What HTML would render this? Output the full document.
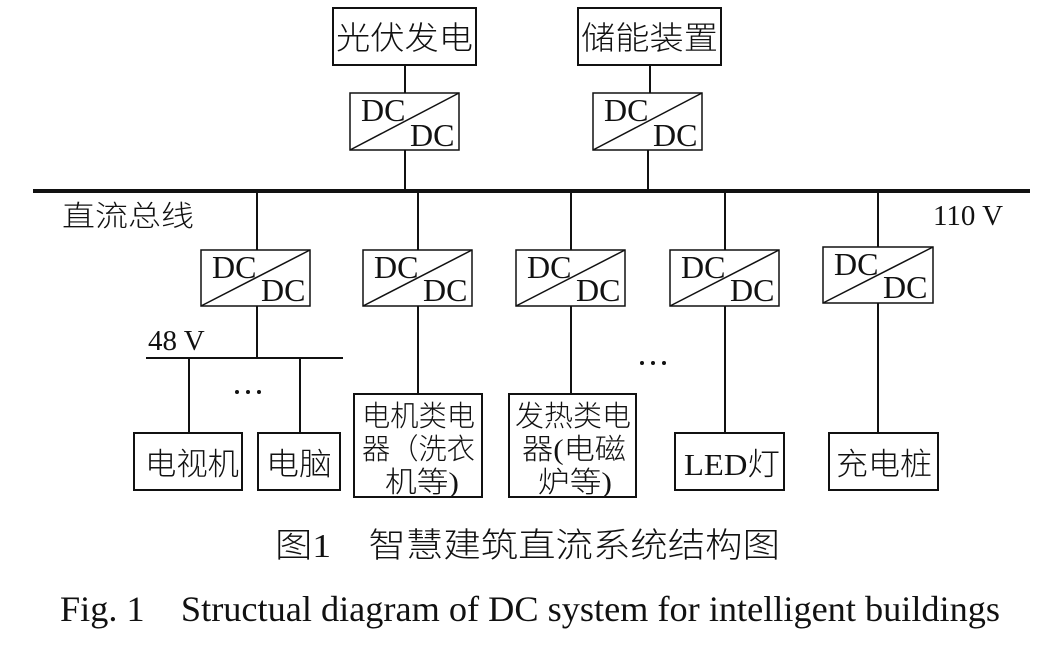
<!DOCTYPE html>
<html><head><meta charset="utf-8"><style>
html,body{margin:0;padding:0;background:#fff;}
svg{display:block;}
text{font-family:"Liberation Serif","Noto Serif CJK SC",serif;fill:#111;}
.c{font-family:"Liberation Serif","Noto Sans CJK SC",sans-serif;font-weight:300;}
</style></head><body>
<svg width="1063" height="658" viewBox="0 0 1063 658" xmlns="http://www.w3.org/2000/svg">
<g stroke="#111" fill="none" stroke-width="2">
<rect x="333" y="8" width="143" height="57"/>
<rect x="578" y="8" width="143" height="57"/>
<line x1="405" y1="65" x2="405" y2="93"/>
<line x1="650" y1="65" x2="650" y2="93"/>
<line x1="405" y1="150" x2="405" y2="190"/>
<line x1="648" y1="150" x2="648" y2="190"/>
<line x1="33" y1="191" x2="1030" y2="191" stroke-width="4"/>
<line x1="257" y1="191" x2="257" y2="250"/>
<line x1="418" y1="191" x2="418" y2="250"/>
<line x1="571" y1="191" x2="571" y2="250"/>
<line x1="725" y1="191" x2="725" y2="250"/>
<line x1="878" y1="191" x2="878" y2="247"/>
<line x1="257" y1="306" x2="257" y2="358"/>
<line x1="146" y1="358" x2="343" y2="358"/>
<line x1="189" y1="358" x2="189" y2="433"/>
<line x1="300" y1="358" x2="300" y2="433"/>
<line x1="418" y1="306" x2="418" y2="394"/>
<line x1="571" y1="306" x2="571" y2="394"/>
<line x1="725" y1="306" x2="725" y2="433"/>
<line x1="878" y1="303" x2="878" y2="433"/>
<rect x="134" y="433" width="108" height="57"/>
<rect x="258" y="433" width="82" height="57"/>
<rect x="354" y="394" width="128" height="103"/>
<rect x="509" y="394" width="127" height="103"/>
<rect x="675" y="433" width="109" height="57"/>
<rect x="829" y="433" width="109" height="57"/>
</g>
<g stroke="#111" fill="none" stroke-width="1.5">
<rect x="350" y="93" width="109" height="57"/><line x1="350" y1="150" x2="459" y2="93"/>
<rect x="593" y="93" width="109" height="57"/><line x1="593" y1="150" x2="702" y2="93"/>
<rect x="201" y="250" width="109" height="56"/><line x1="201" y1="306" x2="310" y2="250"/>
<rect x="363" y="250" width="109" height="56"/><line x1="363" y1="306" x2="472" y2="250"/>
<rect x="516" y="250" width="109" height="56"/><line x1="516" y1="306" x2="625" y2="250"/>
<rect x="670" y="250" width="109" height="56"/><line x1="670" y1="306" x2="779" y2="250"/>
<rect x="823" y="247" width="110" height="56"/><line x1="823" y1="303" x2="933" y2="247"/>
</g>
<g font-size="32">
<text x="361" y="121">DC</text><text x="410" y="146">DC</text>
<text x="604" y="121">DC</text><text x="653" y="146">DC</text>
<text x="212" y="278">DC</text><text x="261" y="301">DC</text>
<text x="374" y="278">DC</text><text x="423" y="301">DC</text>
<text x="527" y="278">DC</text><text x="576" y="301">DC</text>
<text x="681" y="278">DC</text><text x="730" y="301">DC</text>
<text x="834" y="275">DC</text><text x="883" y="298">DC</text>
</g>
<g fill="#111">
<circle cx="237" cy="392" r="2"/><circle cx="248" cy="392" r="2"/><circle cx="259" cy="392" r="2"/>
<circle cx="642" cy="363" r="2"/><circle cx="653" cy="363" r="2"/><circle cx="664" cy="363" r="2"/>
</g>
<g font-size="30" class="c">
<text x="336" y="49" font-size="32" textLength="137" lengthAdjust="spacingAndGlyphs" class="c">光伏发电</text>
<text x="581" y="49" font-size="32" textLength="137" lengthAdjust="spacingAndGlyphs" class="c">储能装置</text>
<text x="62" y="226" font-size="29" textLength="132" lengthAdjust="spacingAndGlyphs" class="c">直流总线</text>
<text x="145" y="475" font-size="31" textLength="94" lengthAdjust="spacingAndGlyphs" class="c">电视机</text>
<text x="266" y="475" font-size="31" textLength="66" lengthAdjust="spacingAndGlyphs" class="c">电脑</text>
<text x="362" y="426" font-size="29" textLength="113" lengthAdjust="spacingAndGlyphs" class="c">电机类电</text>
<text x="362" y="459" font-size="29" textLength="113" lengthAdjust="spacingAndGlyphs" class="c">器（洗衣</text>
<text x="385" y="492" font-size="29" textLength="74" lengthAdjust="spacingAndGlyphs" class="c">机等)</text>
<text x="515" y="426" font-size="29" textLength="116" lengthAdjust="spacingAndGlyphs" class="c">发热类电</text>
<text x="522" y="459" font-size="29" textLength="104" lengthAdjust="spacingAndGlyphs" class="c">器(电磁</text>
<text x="538" y="492" font-size="29" textLength="74" lengthAdjust="spacingAndGlyphs" class="c">炉等)</text>
<text x="684" y="475" font-size="31" textLength="96" lengthAdjust="spacingAndGlyphs" class="c">LED灯</text>
<text x="836" y="475" font-size="31" textLength="96" lengthAdjust="spacingAndGlyphs" class="c">充电桩</text>
</g>
<text x="933" y="225" font-size="29">110 V</text>
<text x="148" y="350" font-size="29">48 V</text>
<text x="275" y="557" font-size="34" textLength="505" lengthAdjust="spacingAndGlyphs" class="c">图1&#160;&#160;&#160;&#160;智慧建筑直流系统结构图</text>
<text x="60" y="621" font-size="36" textLength="940" lengthAdjust="spacingAndGlyphs">Fig. 1&#160;&#160;&#160;&#160;Structual diagram of DC system for intelligent buildings</text>
</svg>
</body></html>
